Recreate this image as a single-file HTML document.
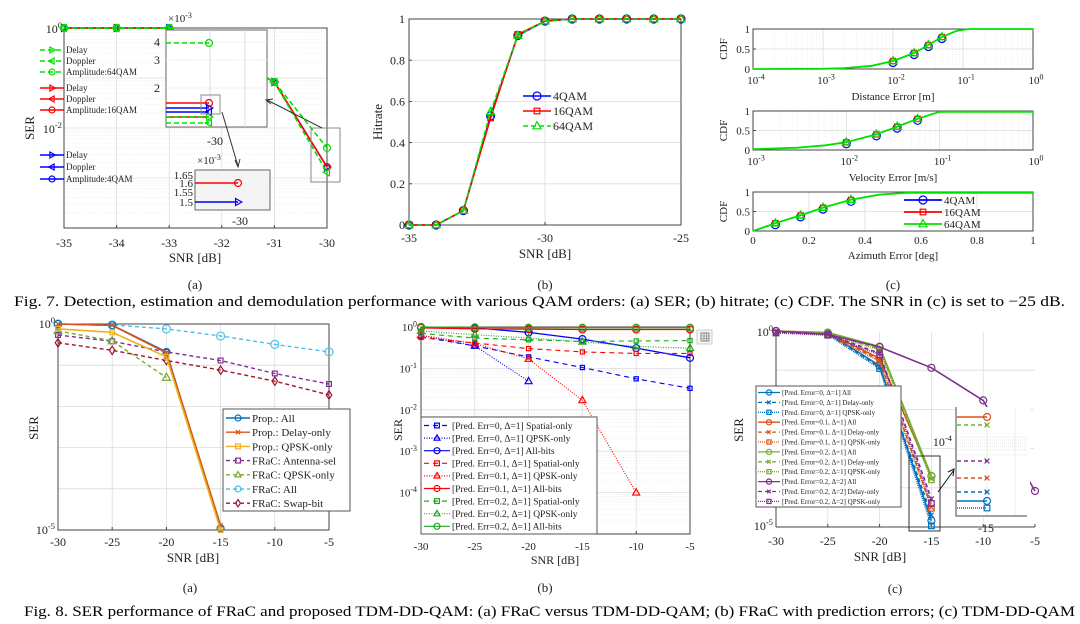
<!DOCTYPE html>
<html><head><meta charset="utf-8"><style>
html,body{margin:0;padding:0;background:#fff;}
svg{display:block;font-family:"Liberation Serif",serif;}
</style></head><body>
<svg id="fig" width="1080" height="624" viewBox="0 0 1080 624" xmlns="http://www.w3.org/2000/svg">
<text x="14" y="306" font-size="15" textLength="1051" lengthAdjust="spacingAndGlyphs">Fig. 7.  Detection, estimation and demodulation performance with various QAM orders: (a) SER; (b) hitrate; (c) CDF. The SNR in (c) is set to −25 dB.</text>
<text x="24" y="616" font-size="15" textLength="1051" lengthAdjust="spacingAndGlyphs">Fig. 8.  SER performance of FRaC and proposed TDM-DD-QAM: (a) FRaC versus TDM-DD-QAM; (b) FRaC with prediction errors; (c) TDM-DD-QAM</text>
</svg>
<script>
// ---------- DATA ----------
// Fig 7(a)
const snr7a = [-35,-34,-33,-32,-31,-30];
const ser4qam  = [1,1,1,0.3,0.083,0.00166];
const ser16qam = [1,1,1,0.3,0.083,0.00166];
const ser64qamDelay = [1,1,1,0.3,0.083,0.0013];
const ser64qamAmp   = [1,1,1,0.3,0.083,0.004];
// Fig 7(b)
const snr7b = [-35,-34,-33,-32,-31,-30,-29,-28,-27,-26,-25];
const hit4  = [0,0,0.07,0.53,0.92,0.99,1,1,1,1,1];
const hit16 = [0,0,0.07,0.52,0.925,0.99,1,1,1,1,1];
const hit64 = [0,0,0.07,0.55,0.92,0.99,1,1,1,1,1];
// Fig 7(c)
const distErr = [1e-4,1e-3,2e-3,5e-3,0.01,0.02,0.032,0.05,0.08,0.12,1];
const distCdf = [0,0.005,0.02,0.08,0.2,0.4,0.6,0.8,0.95,1,1];
const distMarkX = [0.01,0.02,0.032,0.05];
const distMarkY = [0.2,0.4,0.6,0.8];
const velErr = [1e-3,3e-3,6e-3,0.01,0.021,0.035,0.058,0.1,1];
const velCdf = [0.02,0.06,0.12,0.2,0.4,0.6,0.8,0.98,0.98];
const velMarkX = [0.01,0.021,0.035,0.058];
const velMarkY = [0.2,0.4,0.6,0.8];
const azErr = [0,0.08,0.17,0.25,0.35,0.45,0.55,1];
const azCdf = [0,0.2,0.4,0.6,0.8,0.93,0.98,0.98];
const azMarkX = [0.08,0.17,0.25,0.35];
const azMarkY = [0.2,0.4,0.6,0.8];
// Fig 8(a)
const snr8 = [-30,-25,-20,-15,-10,-5];
const propAll   = [1,0.93,0.21,1.1e-5];
const propDelay = [1,0.93,0.2,1.3e-5];
const propQpsk  = [0.76,0.63,0.16,1e-5];
const fracAnt   = [0.54,0.38,0.21,0.13,0.063,0.035];
const fracQpsk  = [0.68,0.39,0.05];
const fracAll   = [1,0.95,0.76,0.51,0.32,0.21];
const fracSwap  = [0.35,0.23,0.13,0.076,0.041,0.019];
// Fig 8(b)
const bSpatial0 = [0.58,0.35,0.19,0.105,0.056,0.033];
const bQpsk0    = [0.63,0.35,0.049];
const bAll0     = [1,0.95,0.74,0.51,0.31,0.18];
const bSpatial1 = [0.56,0.41,0.3,0.25,0.23,0.23];
const bQpsk1    = [0.63,0.4,0.17,0.017,0.0001];
const bAll1     = [0.95,0.9,0.89,0.87,0.87,0.87];
const bSpatial2 = [0.7,0.54,0.49,0.45,0.46,0.47];
const bQpsk2    = [0.8,0.65,0.54,0.44,0.34,0.31];
const bAll2     = [1,0.98,0.96,0.96,0.96,0.96];
// Fig 8(c)
const cAll0   = [1,0.89,0.13,1.45e-5];
const cDelay0 = [0.95,0.85,0.12,2e-5];
const cQpsk0  = [0.9,0.8,0.11,1.07e-5];
const cAll1   = [1,0.9,0.2,2e-4];
const cDelay1 = [0.95,0.85,0.18,3.2e-5];
const cQpsk1  = [0.9,0.8,0.17,3e-5];
const cAll2   = [1,0.92,0.4,2e-4];
const cDelay2 = [0.95,0.88,0.35,1.7e-4];
const cQpsk2  = [0.9,0.82,0.33,1.6e-4];
const cAllD2   = [1,0.82,0.39,0.115,0.017,8.3e-5];
const cDelayD2 = [0.95,0.82,0.27,5.2e-5];
const cQpskD2  = [0.9,0.78,0.25,4e-5];

// ---------- HELPERS ----------
const NS='http://www.w3.org/2000/svg';
const svg=document.getElementById('fig');
function mk(tag,attrs,parent){const e=document.createElementNS(NS,tag);for(const k in attrs)e.setAttribute(k,attrs[k]);(parent||svg).appendChild(e);return e;}
function grp(name,parent){const g=mk('g',{},parent);


return g;}
function txt(p,x,y,s,size,anchor,name,extra){const t=mk('text',Object.assign({x:x,y:y,'font-size':size,'text-anchor':anchor||'start',fill:'#222'},extra||{}),p);t.textContent=s;


return t;}
function pow10(p,x,y,exp,size,anchor,name){const t=mk('text',{x:x,y:y,'font-size':size,'text-anchor':anchor||'end',fill:'#222'},p);


const a=mk('tspan',{},t);a.textContent='10';const b=mk('tspan',{dy:-size*0.4,'font-size':size*0.72},t);b.textContent=exp;return t;}
function axes(o){const fx=o.xlog?Math.log10:(v=>v),fy=o.ylog?Math.log10:(v=>v);
o.X=v=>o.x0+(fx(v)-fx(o.xmin))/(fx(o.xmax)-fx(o.xmin))*(o.x1-o.x0);
o.Y=v=>o.y1-(fy(v)-fy(o.ymin))/(fy(o.ymax)-fy(o.ymin))*(o.y1-o.y0);return o;}
function frame(ax,g,gridX,gridY,minorY,minorX){
  const gg=grp('grid',g);
  (minorY||[]).forEach(v=>{const l=mk('line',{x1:ax.x0,x2:ax.x1,y1:ax.Y(v),y2:ax.Y(v),stroke:'#e4e4e4','stroke-width':0.6,'stroke-dasharray':'1 1.5'},gg);});
  (minorX||[]).forEach(v=>{mk('line',{x1:ax.X(v),x2:ax.X(v),y1:ax.y0,y2:ax.y1,stroke:'#e4e4e4','stroke-width':0.6,'stroke-dasharray':'1 1.5'},gg);});
  gridX.forEach(v=>{mk('line',{x1:ax.X(v),x2:ax.X(v),y1:ax.y0,y2:ax.y1,stroke:'#dcdcdc','stroke-width':0.8},gg);});
  gridY.forEach(v=>{mk('line',{x1:ax.x0,x2:ax.x1,y1:ax.Y(v),y2:ax.Y(v),stroke:'#dcdcdc','stroke-width':0.8},gg);});
  const r=mk('rect',{x:ax.x0,y:ax.y0,width:ax.x1-ax.x0,height:ax.y1-ax.y0,fill:'none',stroke:'#444','stroke-width':1},g);
  
  
}
function marker(p,type,x,y,c,s){s=s||4;const a={fill:'none',stroke:c,'stroke-width':1.2};let e;
 if(type==='o')e=mk('circle',Object.assign({cx:x,cy:y,r:s},a),p);
 else if(type==='s')e=mk('rect',Object.assign({x:x-s*0.8,y:y-s*0.8,width:s*1.6,height:s*1.6},a),p);
 else if(type==='^')e=mk('path',Object.assign({d:`M${x},${y-s*1.1}L${x+s},${y+s*0.7}L${x-s},${y+s*0.7}Z`},a),p);
 else if(type==='>')e=mk('path',Object.assign({d:`M${x+s*1.1},${y}L${x-s*0.7},${y-s}L${x-s*0.7},${y+s}Z`},a),p);
 else if(type==='<')e=mk('path',Object.assign({d:`M${x-s*1.1},${y}L${x+s*0.7},${y-s}L${x+s*0.7},${y+s}Z`},a),p);
 else if(type==='d')e=mk('path',Object.assign({d:`M${x},${y-s*1.2}L${x+s*0.8},${y}L${x},${y+s*1.2}L${x-s*0.8},${y}Z`},a),p);
 else if(type==='x')e=mk('path',Object.assign({d:`M${x-s*0.7},${y-s*0.7}L${x+s*0.7},${y+s*0.7}M${x+s*0.7},${y-s*0.7}L${x-s*0.7},${y+s*0.7}`},a),p);
 if(e){
 }
 return e;}
function series(ax,p,xs,ys,c,dash,m,name,w,ms,noMarkIdx){const g=grp(name,p);
 const n=Math.min(xs.length,ys.length);let d='';for(let i=0;i<n;i++)d+=(i?'L':'M')+ax.X(xs[i]).toFixed(1)+','+ax.Y(ys[i]).toFixed(1);
 const l=mk('path',{d:d,fill:'none',stroke:c,'stroke-width':w||1.4,'stroke-dasharray':dash||'none'},g);
 
 
 if(m)for(let i=0;i<n;i++){if(noMarkIdx&&noMarkIdx.includes(i))continue;marker(g,m,ax.X(xs[i]),ax.Y(ys[i]),c,ms);}
 return g;}
function legendEntry(p,x,y,len,c,dash,m,label,size,ms,w){const g=grp('legend-entry',p);
 mk('line',{x1:x,x2:x+len,y1:y,y2:y,stroke:c,'stroke-width':w||1.4,'stroke-dasharray':dash||'none'},g);
 if(m)marker(g,m,x+len/2,y,c,ms);
 txt(g,x+len+2,y+size*0.35,label,size,'start','legend-label');return g;}
function xticks(ax,p,vals,y,size,labels){vals.forEach((v,i)=>{mk('line',{x1:ax.X(v),x2:ax.X(v),y1:ax.y1,y2:ax.y1-3,stroke:'#444'},p);txt(p,ax.X(v),y,labels?labels[i]:String(v),size,'middle','x-tick-label');});}
function yticks(ax,p,vals,x,size,labels){vals.forEach((v,i)=>{mk('line',{x1:ax.x0,x2:ax.x0+3,y1:ax.Y(v),y2:ax.Y(v),stroke:'#444'},p);txt(p,x,ax.Y(v)+size*0.35,labels?labels[i]:String(v),size,'end','y-tick-label');});}
function minorLog(e0,e1){const r=[];for(let e=e0;e<e1;e++)for(let k=2;k<10;k++)r.push(k*Math.pow(10,e));return r;}
function decades(e0,e1){const r=[];for(let e=e0;e<=e1;e++)r.push(Math.pow(10,e));return r;}

const BLUE='#0000ff',RED='#ff0000',LIME='#00e000';

// ---------- FIG 7(a) ----------
(function(){const g=grp('fig7a-ser-plot');
 const ax=axes({x0:64,x1:327,y0:28,y1:228,xmin:-35,xmax:-30,ymin:1e-4,ymax:1,ylog:true});
 frame(ax,g,snr7a,decades(-4,0),minorLog(-4,0));
 xticks(ax,g,snr7a,247,12);
 pow10(g,62,33,'0',12,'end','y-tick-10e0');pow10(g,62,133,'-2',12,'end','y-tick-10e-2');
 txt(g,34,128,'SER',13,'middle','y-axis-title',{transform:'rotate(-90 34 128)'});
 txt(g,195,262,'SNR [dB]',13,'middle','x-axis-title');txt(g,195,289,'(a)',13,'middle','subplot-label');
 series(ax,g,snr7a,ser4qam,BLUE,'',  '>','series-4qam-delay',1.6,3.5);
 series(ax,g,snr7a,ser16qam,RED,'','o','series-16qam',1.6,3.5);
 series(ax,g,snr7a,ser64qamDelay,LIME,'5 3','<','series-64qam-delay',1.6,3.5);
 series(ax,g,snr7a,ser64qamAmp,LIME,'5 3','o','series-64qam-amplitude',1.6,3.5);
 // insets
 const i1=grp('inset-zoom-1',g);
 mk('rect',{x:166,y:30,width:101,height:97,fill:'#fff',stroke:'#666'},i1);
 [42,60,88].forEach(y=>mk('line',{x1:166,x2:267,y1:y,y2:y,stroke:'#ddd','stroke-dasharray':'1 1.5'},i1));
 [210,245].forEach(x=>mk('line',{x1:x,x2:x,y1:30,y2:127,stroke:'#ddd'},i1));
 txt(i1,160,46,'4',12,'end','inset-tick');txt(i1,160,64,'3',12,'end','inset-tick');txt(i1,160,92,'2',12,'end','inset-tick');
 const tt=txt(i1,168,22,'×10',11,'start','inset-exponent');const ts=mk('tspan',{dy:-4,'font-size':8},tt);ts.textContent='-3';
 txt(i1,215,145,'-30',12,'middle','inset-tick');
 mk('line',{x1:166,x2:209,y1:43,y2:43,stroke:LIME,'stroke-width':1.6,'stroke-dasharray':'5 3'},i1);marker(i1,'o',209,43,LIME,3.5);
 mk('line',{x1:166,x2:209,y1:103,y2:103,stroke:RED,'stroke-width':1.6},i1);marker(i1,'o',209,103,RED,3.5);
 mk('line',{x1:166,x2:209,y1:108,y2:108,stroke:BLUE,'stroke-width':1.6},i1);marker(i1,'>',209,108,BLUE,3.5);
 mk('line',{x1:166,x2:209,y1:112,y2:112,stroke:BLUE,'stroke-width':1.6},i1);marker(i1,'<',209,112,BLUE,3.5);
 mk('line',{x1:166,x2:209,y1:117,y2:117,stroke:RED,'stroke-width':1.6},i1);
 mk('line',{x1:166,x2:209,y1:117,y2:117,stroke:LIME,'stroke-width':1.6,'stroke-dasharray':'5 3'},i1);marker(i1,'>',209,117,LIME,3.5);
 mk('line',{x1:166,x2:209,y1:123,y2:123,stroke:LIME,'stroke-width':1.6,'stroke-dasharray':'5 3'},i1);marker(i1,'<',209,123,LIME,3.5);
 mk('rect',{x:201,y:95,width:19,height:19,fill:'none',stroke:'#888'},i1);
 const i2=grp('inset-zoom-2',g);
 mk('rect',{x:195,y:170,width:75,height:40,fill:'#f4f4f4',stroke:'#666'},i2);
 [['1.65',175],['1.6',183],['1.55',192],['1.5',202]].forEach(a=>txt(i2,193,a[1]+4,a[0],11,'end','inset-tick'));
 const t2=txt(i2,197,164,'×10',11,'start','inset-exponent');const s2=mk('tspan',{dy:-4,'font-size':8},t2);s2.textContent='-3';
 txt(i2,240,225,'-30',12,'middle','inset-tick');
 mk('line',{x1:195,x2:238,y1:183,y2:183,stroke:RED,'stroke-width':1.6},i2);marker(i2,'o',238,183,RED,3.5);
 mk('line',{x1:195,x2:238,y1:202,y2:202,stroke:BLUE,'stroke-width':1.6},i2);marker(i2,'>',238,202,BLUE,3.5);
 mk('rect',{x:311,y:128,width:29,height:54,fill:'none',stroke:'#888'},g);
 mk('path',{d:'M222,112L238,166M235,160L238,167L240,159',fill:'none',stroke:'#333'},g);
 mk('path',{d:'M322,128L267,100M273,99L266,100L271,104',fill:'none',stroke:'#333'},g);
 // legend
 const lg=grp('fig7a-legend',g);
 const L=[[50,LIME,'5 3','>','Delay'],[61,LIME,'5 3','<','Doppler'],[72,LIME,'5 3','o','Amplitude:64QAM'],
  [88,RED,'','>','Delay'],[99,RED,'','<','Doppler'],[110,RED,'','o','Amplitude:16QAM'],
  [155,BLUE,'','>','Delay'],[167,BLUE,'','<','Doppler'],[179,BLUE,'','o','Amplitude:4QAM']];
 L.forEach(e=>legendEntry(lg,40,e[0],24,e[1],e[2],e[3],e[4],9,3,1.6));
})();

// ---------- FIG 7(b) ----------
(function(){const g=grp('fig7b-hitrate-plot');
 const ax=axes({x0:409,x1:681,y0:19,y1:225,xmin:-35,xmax:-25,ymin:0,ymax:1});
 frame(ax,g,[-30],[0.2,0.4,0.6,0.8]);
 xticks(ax,g,[-35,-30,-25],242,12);
 yticks(ax,g,[0,0.2,0.4,0.6,0.8,1],405,12,['0','0.2','0.4','0.6','0.8','1']);
 txt(g,382,122,'Hitrate',13,'middle','y-axis-title',{transform:'rotate(-90 382 122)'});
 txt(g,545,258,'SNR [dB]',13,'middle','x-axis-title');txt(g,545,289,'(b)',13,'middle','subplot-label');
 series(ax,g,snr7b,hit4,BLUE,'','o','series-4qam',1.6,4);
 series(ax,g,snr7b,hit16,RED,'','s','series-16qam',1.6,3.5);
 series(ax,g,snr7b,hit64,LIME,'5 3','^','series-64qam',1.6,4);
 const lg=grp('fig7b-legend',g);
 legendEntry(lg,523,96,28,BLUE,'','o','4QAM',12,4,1.6);
 legendEntry(lg,523,111,28,RED,'','s','16QAM',12,3.5,1.6);
 legendEntry(lg,523,126,28,LIME,'5 3','^','64QAM',12,4,1.6);
})();

// ---------- FIG 7(c) ----------
(function(){const g=grp('fig7c-cdf-plots');
 function sub(name,y0,y1,xmin,xmax,xlog,xs,ys,mx,my,xticksv,xlabels,title,ty){
  const p=grp(name,g);
  const ax=axes({x0:753,x1:1033,y0:y0,y1:y1,xmin:xmin,xmax:xmax,ymin:0,ymax:1,xlog:xlog});
  frame(ax,p,xticksv,[0.5],[],xlog?minorLog(Math.log10(xmin),0):[]);
  yticks(ax,p,[0,0.5,1],750,11,['0','0.5','1']);
  txt(p,727,(y0+y1)/2,'CDF',11,'middle','y-axis-title',{transform:`rotate(-90 727 ${(y0+y1)/2})`});
  xticksv.forEach((v,i)=>{if(xlog)pow10(p,ax.X(v)+3,y1+15,xlabels[i],11,'middle','x-tick-label');else txt(p,ax.X(v),y1+13,xlabels[i],11,'middle','x-tick-label');});
  txt(p,893,ty,title,11,'middle','x-axis-title');
  const mb=grp('cdf-4qam',p);mx.forEach((v,i)=>marker(mb,'o',ax.X(v),ax.Y(my[i])+1.5,BLUE,4));
  const mr=grp('cdf-16qam',p);mx.forEach((v,i)=>marker(mr,'s',ax.X(v),ax.Y(my[i]),RED,3.2));
  series(ax,p,xs,ys,LIME,'','', 'cdf-64qam',1.8);
  const mg=grp('cdf-64qam-markers',p);mx.forEach((v,i)=>marker(mg,'^',ax.X(v),ax.Y(my[i]),LIME,4));
  return p;}
 sub('cdf-distance',29,69,1e-4,1,true,distErr,distCdf,distMarkX,distMarkY,[1e-4,1e-3,1e-2,1e-1,1],['-4','-3','-2','-1','0'],'Distance Error [m]',100);
 sub('cdf-velocity',111,150,1e-3,1,true,velErr,velCdf,velMarkX,velMarkY,[1e-3,1e-2,1e-1,1],['-3','-2','-1','0'],'Velocity Error [m/s]',181);
 const p3=sub('cdf-azimuth',192,231,0,1,false,azErr,azCdf,azMarkX,azMarkY,[0,0.2,0.4,0.6,0.8,1],['0','0.2','0.4','0.6','0.8','1'],'Azimuth Error [deg]',259);
 const lg=grp('fig7c-legend',p3);
 legendEntry(lg,904,200,38,BLUE,'','o','4QAM',11,4,1.8);
 legendEntry(lg,904,212,38,RED,'','s','16QAM',11,3.5,1.8);
 legendEntry(lg,904,224,38,LIME,'','^','64QAM',11,4,1.8);
 txt(g,893,289,'(c)',13,'middle','subplot-label');
})();

// ---------- FIG 8(a) ----------
(function(){const g=grp('fig8a-ser-plot');
 const ax=axes({x0:58,x1:329,y0:324,y1:530,xmin:-30,xmax:-5,ymin:1e-5,ymax:1,ylog:true});
 frame(ax,g,snr8,decades(-5,0),[]);
 xticks(ax,g,snr8,546,12);
 pow10(g,55,328,'0',12,'end','y-tick-10e0');pow10(g,55,534,'-5',12,'end','y-tick-10e-5');
 txt(g,38,428,'SER',13,'middle','y-axis-title',{transform:'rotate(-90 38 428)'});
 txt(g,193,562,'SNR [dB]',13,'middle','x-axis-title');txt(g,190,592,'(a)',13,'middle','subplot-label');
 const C={b:'#0072BD',o:'#D95319',y:'#EDB120',p:'#7E2F8E',g:'#77AC30',c:'#4DBEEE',r:'#A2142F'};
 series(ax,g,snr8,fracAnt,C.p,'4 3','s','frac-antenna-sel',1.4,3);
 series(ax,g,snr8,fracQpsk,C.g,'4 3','^','frac-qpsk-only',1.4,4);
 series(ax,g,snr8,fracAll,C.c,'4 3','o','frac-all',1.4,4);
 series(ax,g,snr8,fracSwap,C.r,'4 3','d','frac-swap-bit',1.4,3.5);
 series(ax,g,snr8,propAll,C.b,'','o','prop-all',1.6,3.5);
 series(ax,g,snr8,propDelay,C.o,'','x','prop-delay-only',1.6,3);
 series(ax,g,snr8,propQpsk,C.y,'','s','prop-qpsk-only',1.6,3);
 const lg=grp('fig8a-legend',g);
 mk('rect',{x:223,y:409,width:127,height:102,fill:'#fff',stroke:'#555'},lg);
 const L=[[C.b,'','o','Prop.: All'],[C.o,'','x','Prop.: Delay-only'],[C.y,'','s','Prop.: QPSK-only'],[C.p,'4 3','s','FRaC: Antenna-sel'],[C.g,'4 3','^','FRaC: QPSK-only'],[C.c,'4 3','o','FRaC: All'],[C.r,'4 3','d','FRaC: Swap-bit']];
 L.forEach((e,i)=>legendEntry(lg,226,418+i*14.2,24,e[0],e[1],e[2],e[3],11,3,1.4));
})();

// ---------- FIG 8(b) ----------
(function(){const g=grp('fig8b-ser-plot');
 const ax=axes({x0:421,x1:690,y0:327,y1:534,xmin:-30,xmax:-5,ymin:1e-5,ymax:1,ylog:true});
 frame(ax,g,snr8,decades(-5,0),minorLog(-5,0));
 xticks(ax,g,snr8,550,11);
 [[0,'0'],[-1,'-1'],[-2,'-2'],[-3,'-3'],[-4,'-4']].forEach(a=>pow10(g,417,ax.Y(Math.pow(10,a[0]))+4,a[1],11,'end','y-tick-label'));
 txt(g,402,430,'SER',12,'middle','y-axis-title',{transform:'rotate(-90 402 430)'});
 txt(g,555,564,'SNR [dB]',12,'middle','x-axis-title');txt(g,545,592,'(b)',13,'middle','subplot-label');
 const G='#1ea81e';
 series(ax,g,snr8,bSpatial0,BLUE,'5 4','s','pe0-spatial-only',1.1,2.6);
 series(ax,g,snr8,bQpsk0,BLUE,'1 1.5','^','pe0-qpsk-only',1.1,3.5);
 series(ax,g,snr8,bAll0,BLUE,'','o','pe0-all-bits',1.3,3.5);
 series(ax,g,snr8,bSpatial1,RED,'5 4','s','pe01-spatial-only',1.1,2.6);
 series(ax,g,snr8,bQpsk1,RED,'1 1.5','^','pe01-qpsk-only',1.1,3.5);
 series(ax,g,snr8,bAll1,RED,'','o','pe01-all-bits',1.3,3.5);
 series(ax,g,snr8,bSpatial2,G,'5 4','s','pe02-spatial-only',1.1,2.6);
 series(ax,g,snr8,bQpsk2,G,'1 1.5','^','pe02-qpsk-only',1.1,3.5);
 series(ax,g,snr8,bAll2,G,'','o','pe02-all-bits',1.3,3.5);
 const lg=grp('fig8b-legend',g);
 mk('rect',{x:421,y:417,width:176,height:117,fill:'#fff',stroke:'#555'},lg);
 const L=[[BLUE,'5 4','s','[Pred. Err=0, Δ=1] Spatial-only'],[BLUE,'1 1.5','^','[Pred. Err=0, Δ=1] QPSK-only'],[BLUE,'','o','[Pred. Err=0, Δ=1] All-bits'],
  [RED,'5 4','s','[Pred. Err=0.1, Δ=1] Spatial-only'],[RED,'1 1.5','^','[Pred. Err=0.1, Δ=1] QPSK-only'],[RED,'','o','[Pred. Err=0.1, Δ=1] All-bits'],
  [G,'5 4','s','[Pred. Err=0.2, Δ=1] Spatial-only'],[G,'1 1.5','^','[Pred. Err=0.2, Δ=1] QPSK-only'],[G,'','o','[Pred. Err=0.2, Δ=1] All-bits']];
 L.forEach((e,i)=>legendEntry(lg,424,425.5+i*12.6,26,e[0],e[1],e[2],e[3],9.5,3,1.2));
 const ic=grp('export-icon',g);
 mk('rect',{x:697,y:330,width:15,height:14,fill:'#f5f5f5',stroke:'#ccc'},ic);
 mk('rect',{x:701,y:333,width:8,height:8,fill:'none',stroke:'#666','stroke-width':0.8},ic);
 mk('path',{d:'M701,336H709M701,338.5H709M704,333V341M706.5,333V341',stroke:'#666','stroke-width':0.6},ic);
})();

// ---------- FIG 8(c) ----------
(function(){const g=grp('fig8c-ser-plot');
 const ax=axes({x0:776,x1:1035,y0:331,y1:527,xmin:-30,xmax:-5,ymin:1e-5,ymax:1,ylog:true});
 frame(ax,g,snr8,[1,0.1,0.01,0.001,1e-4],[]);
 mk('rect',{x:776,y:331,width:259,height:196,fill:'none',stroke:'#fff','stroke-width':1.5},g);
 mk('line',{x1:776,x2:776,y1:331,y2:527,stroke:'#444'},g);mk('line',{x1:776,x2:1035,y1:527,y2:527,stroke:'#444'},g);
 xticks(ax,g,snr8,545,12);
 pow10(g,773,336,'0',12,'end','y-tick-10e0');pow10(g,773,530,'-5',12,'end','y-tick-10e-5');
 txt(g,743,430,'SER',13,'middle','y-axis-title',{transform:'rotate(-90 743 430)'});
 txt(g,880,561,'SNR [dB]',13,'middle','x-axis-title');txt(g,895,593,'(c)',13,'middle','subplot-label');
 const B='#0072BD',O='#D95319',Gr='#77AC30',P='#7E2F8E';
 const S=[[cQpsk0,B,'1 1','s','pe0-qpsk-only'],[cDelay0,B,'4 3','x','pe0-delay-only'],[cAll0,B,'','o','pe0-all'],
  [cQpsk1,O,'1 1','s','pe01-qpsk-only'],[cDelay1,O,'4 3','x','pe01-delay-only'],[cAll1,O,'','o','pe01-all'],
  [cQpsk2,Gr,'1 1','s','pe02-qpsk-only'],[cDelay2,Gr,'4 3','x','pe02-delay-only'],[cAll2,Gr,'','o','pe02-all'],
  [cQpskD2,P,'1 1','s','pe02-d2-qpsk-only'],[cDelayD2,P,'4 3','x','pe02-d2-delay-only'],[cAllD2,P,'','o','pe02-d2-all']];
 S.forEach(s=>series(ax,g,snr8,s[0],s[1],s[2],s[3],s[4],1.6,3.5));
 // inset
 const ins=grp('inset-zoom',g);
 mk('rect',{x:955,y:407,width:75,height:110,fill:'#fff'},ins);
 [437,440,443,446,450,455].forEach(y=>mk('line',{x1:956,x2:1027,y1:y,y2:y,stroke:'#ccc','stroke-width':0.6,'stroke-dasharray':'1 1'},ins));
 [987,1015].forEach(x=>mk('line',{x1:x,x2:x,y1:407,y2:516,stroke:'#e0e0e0','stroke-width':0.6},ins));
 mk('path',{d:'M956,407V516H1027',fill:'none',stroke:'#444'},ins);
 pow10(ins,952,446,'-4',12,'end','inset-tick');
 txt(ins,986,532,'-15',12,'middle','inset-tick');
 const IL=[[417,O,'','o'],[425,Gr,'4 3','x'],[461,P,'4 3','x'],[478,O,'4 3','x'],[492,B,'4 3','x'],[501,B,'','o'],[508,B,'1 1','s']];
 IL.forEach(e=>{mk('line',{x1:957,x2:987,y1:e[0],y2:e[0],stroke:e[1],'stroke-width':1.6,'stroke-dasharray':e[2]||'none'},ins);marker(ins,e[3],987,e[0],e[1],3.5);});
 mk('rect',{x:909,y:456,width:31,height:75,fill:'none',stroke:'#333'},g);
 mk('path',{d:'M938,492L954,470M948,472L954,469L953,476',fill:'none',stroke:'#111'},g);
 const lg=grp('fig8c-legend',g);
 mk('rect',{x:756,y:386,width:145,height:121,fill:'#fff',stroke:'#555'},lg);
 const L=[[B,'','o','[Pred. Error=0, Δ=1] All'],[B,'4 3','x','[Pred. Error=0, Δ=1] Delay-only'],[B,'1 1','s','[Pred. Error=0, Δ=1] QPSK-only'],
  [O,'','o','[Pred. Error=0.1, Δ=1] All'],[O,'4 3','x','[Pred. Error=0.1, Δ=1] Delay-only'],[O,'1 1','s','[Pred. Error=0.1, Δ=1] QPSK-only'],
  [Gr,'','o','[Pred. Error=0.2, Δ=1] All'],[Gr,'4 3','x','[Pred. Error=0.2, Δ=1] Delay-only'],[Gr,'1 1','s','[Pred. Error=0.2, Δ=1] QPSK-only'],
  [P,'','o','[Pred. Error=0.2, Δ=2] All'],[P,'4 3','x','[Pred. Error=0.2, Δ=2] Delay-only'],[P,'1 1','s','[Pred. Error=0.2, Δ=2] QPSK-only']];
 L.forEach((e,i)=>legendEntry(lg,758,392.5+i*9.9,22,e[0],e[1],e[2],e[3],7,2.6,1.3));
})();
</script>
</body></html>
